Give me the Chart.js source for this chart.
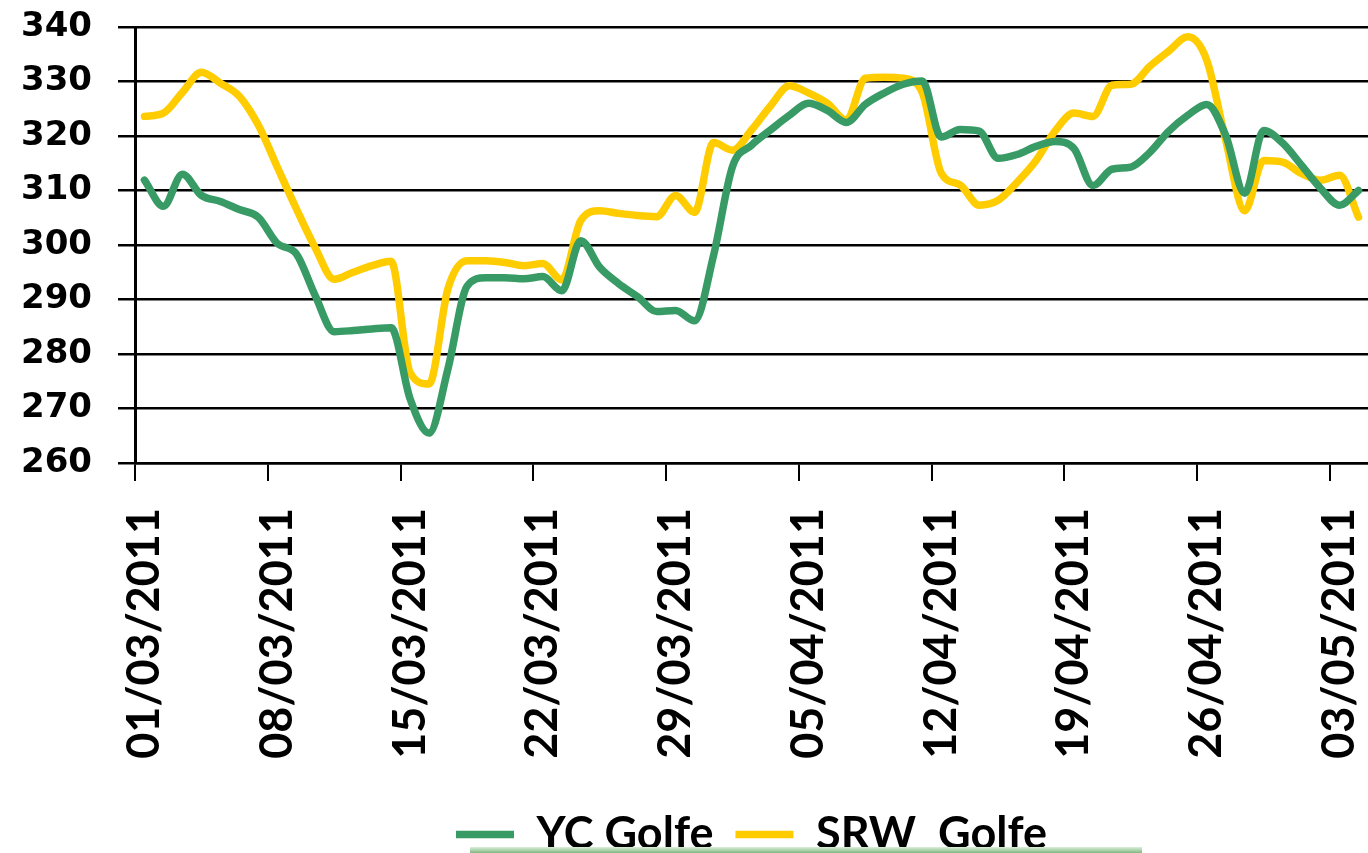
<!DOCTYPE html>
<html>
<head>
<meta charset="utf-8">
<script src="https://cdn.jsdelivr.net/npm/chart.js@4.4.1/dist/chart.umd.min.js"></script>
<style>
  html, body { margin: 0; padding: 0; background: #fff; overflow: hidden; }
  #wrap { position: relative; width: 1368px; height: 867px; }
  #strip { position: absolute; left: 470px; top: 847px; width: 672px; height: 6px;
           background: linear-gradient(to bottom, #dcefdc, #80b880); }
</style>
</head>
<body>
<div id="wrap"><canvas id="priceChart"></canvas></div>
<div id="strip"></div>
<script>
// Daily dates, 01/03/2011 .. 04/05/2011
const startDate = new Date(Date.UTC(2011, 2, 1));
const dayLabels = [];
for (let i = 0; i < 65; i++) {
    const d = new Date(startDate.getTime() + i * 86400000);
    const dd = String(d.getUTCDate()).padStart(2, '0');
    const mm = String(d.getUTCMonth() + 1).padStart(2, '0');
    dayLabels.push(dd + '/' + mm + '/' + d.getUTCFullYear());
}

// YC Golfe (green)
const ycGolfe = [311.9, 307.1, 313.0, 309.1, 308.0, 306.5, 305.1, 300.3, 298.4, 290.7,
                 284.1, 284.3, 284.6, 284.8, 271.8, 265.5, 277.3, 292.4, 294.0, 294.0,
                 293.8, 294.2, 291.6, 300.8, 295.9, 292.9, 290.5, 287.8, 288.0, 286.1,
                 298.1, 314.4, 318.3, 321.1, 323.8, 326.0, 324.7, 322.5, 325.8, 327.9,
                 329.5, 330.1, 319.8, 321.2, 320.9, 315.9, 316.6, 318.1, 319.0, 317.7,
                 310.9, 313.9, 314.3, 317.0, 320.9, 323.8, 325.8, 320.1, 309.5, 321.0,
                 318.7, 314.6, 310.4, 307.3, 310.0];

// SRW Golfe (yellow)
const srwGolfe = [323.6, 324.2, 328.0, 331.7, 329.7, 327.3, 322.0, 314.3, 306.7, 299.5,
                  293.7, 295.0, 296.2, 297.0, 276.6, 274.5, 292.0, 297.1, 297.1, 296.8,
                  296.2, 296.6, 293.6, 304.5, 306.3, 305.8, 305.4, 305.2, 309.1, 306.0,
                  318.8, 317.4, 321.1, 325.5, 329.2, 327.9, 326.0, 322.9, 330.6, 330.8,
                  330.6, 328.0, 313.2, 311.0, 307.3, 308.2, 311.5, 315.5, 320.9, 324.2,
                  323.6, 329.3, 329.5, 332.8, 335.6, 338.2, 333.9, 319.2, 306.3, 315.5,
                  315.2, 313.1, 311.9, 312.8, 305.1];

const yTicks = [260, 270, 280, 290, 300, 310, 320, 330, 340];
const labelEvery = 7;

const GREEN = '#389b65';
const YELLOW = '#ffcc00';

const ctx = document.getElementById('priceChart').getContext('2d');
new Chart(ctx, {
    type: 'line',
    data: {
        labels: dayLabels,
        datasets: [
            {
                label: 'YC Golfe',
                data: ycGolfe,
                borderColor: GREEN,
                backgroundColor: GREEN,
                borderWidth: 7.5,
                borderCapStyle: 'round',
                borderJoinStyle: 'round',
                pointRadius: 0,
                cubicInterpolationMode: 'monotone',
                clip: 0,
                fill: false
            },
            {
                label: 'SRW  Golfe',
                data: srwGolfe,
                borderColor: YELLOW,
                backgroundColor: YELLOW,
                borderWidth: 7.5,
                borderCapStyle: 'round',
                borderJoinStyle: 'round',
                pointRadius: 0,
                cubicInterpolationMode: 'monotone',
                clip: 0,
                fill: false
            }
        ]
    },
    options: {
        responsive: true,
        maintainAspectRatio: false,
        animation: false,
        layout: { padding: { top: 27, left: 0, right: 0, bottom: 0 } },
        plugins: {
            legend: {
                position: 'bottom',
                fullSize: false,
                labels: {
                    usePointStyle: true,
                    pointStyle: 'line',
                    pointStyleWidth: 58,
                    padding: 22,
                    color: '#000',
                    font: { family: 'Lato', weight: 'bold', size: 45 }
                }
            },
            tooltip: { enabled: false }
        },
        scales: {
            x: {
                offset: true,
                grid: {
                    offset: true,
                    drawOnChartArea: false,
                    drawTicks: true,
                    tickLength: 18,
                    lineWidth: 2,
                    tickColor: function(c) { return c.index % labelEvery === 0 ? '#000' : 'rgba(0,0,0,0)'; }
                },
                border: { display: true, color: '#000', width: 2.5 },
                ticks: {
                    autoSkip: false,
                    minRotation: 90,
                    maxRotation: 90,
                    padding: 27,
                    color: '#000',
                    font: { family: 'Lato', weight: 'bold', size: 45 },
                    callback: function(val, i) { return i % labelEvery === 0 ? dayLabels[i] : ''; }
                },
                afterFit: function(scale) {
                    scale.height = 327;
                    scale.paddingLeft = 0;
                    scale.paddingRight = 0;
                }
            },
            y: {
                min: yTicks[0],
                max: yTicks[yTicks.length - 1],
                afterBuildTicks: function(scale) {
                    scale.ticks = yTicks.map(v => ({ value: v }));
                },
                grid: {
                    color: '#000',
                    lineWidth: 2.5,
                    tickLength: 17
                },
                border: { display: true, color: '#000', width: 3 },
                ticks: {
                    padding: 26,
                    color: '#000',
                    font: { family: 'DejaVu Sans', weight: 'bold', size: 34 }
                },
                afterFit: function(scale) {
                    scale.width = 135;
                    scale.paddingTop = 0;
                    scale.paddingBottom = 0;
                }
            }
        }
    }
});
</script>
</body>
</html>
